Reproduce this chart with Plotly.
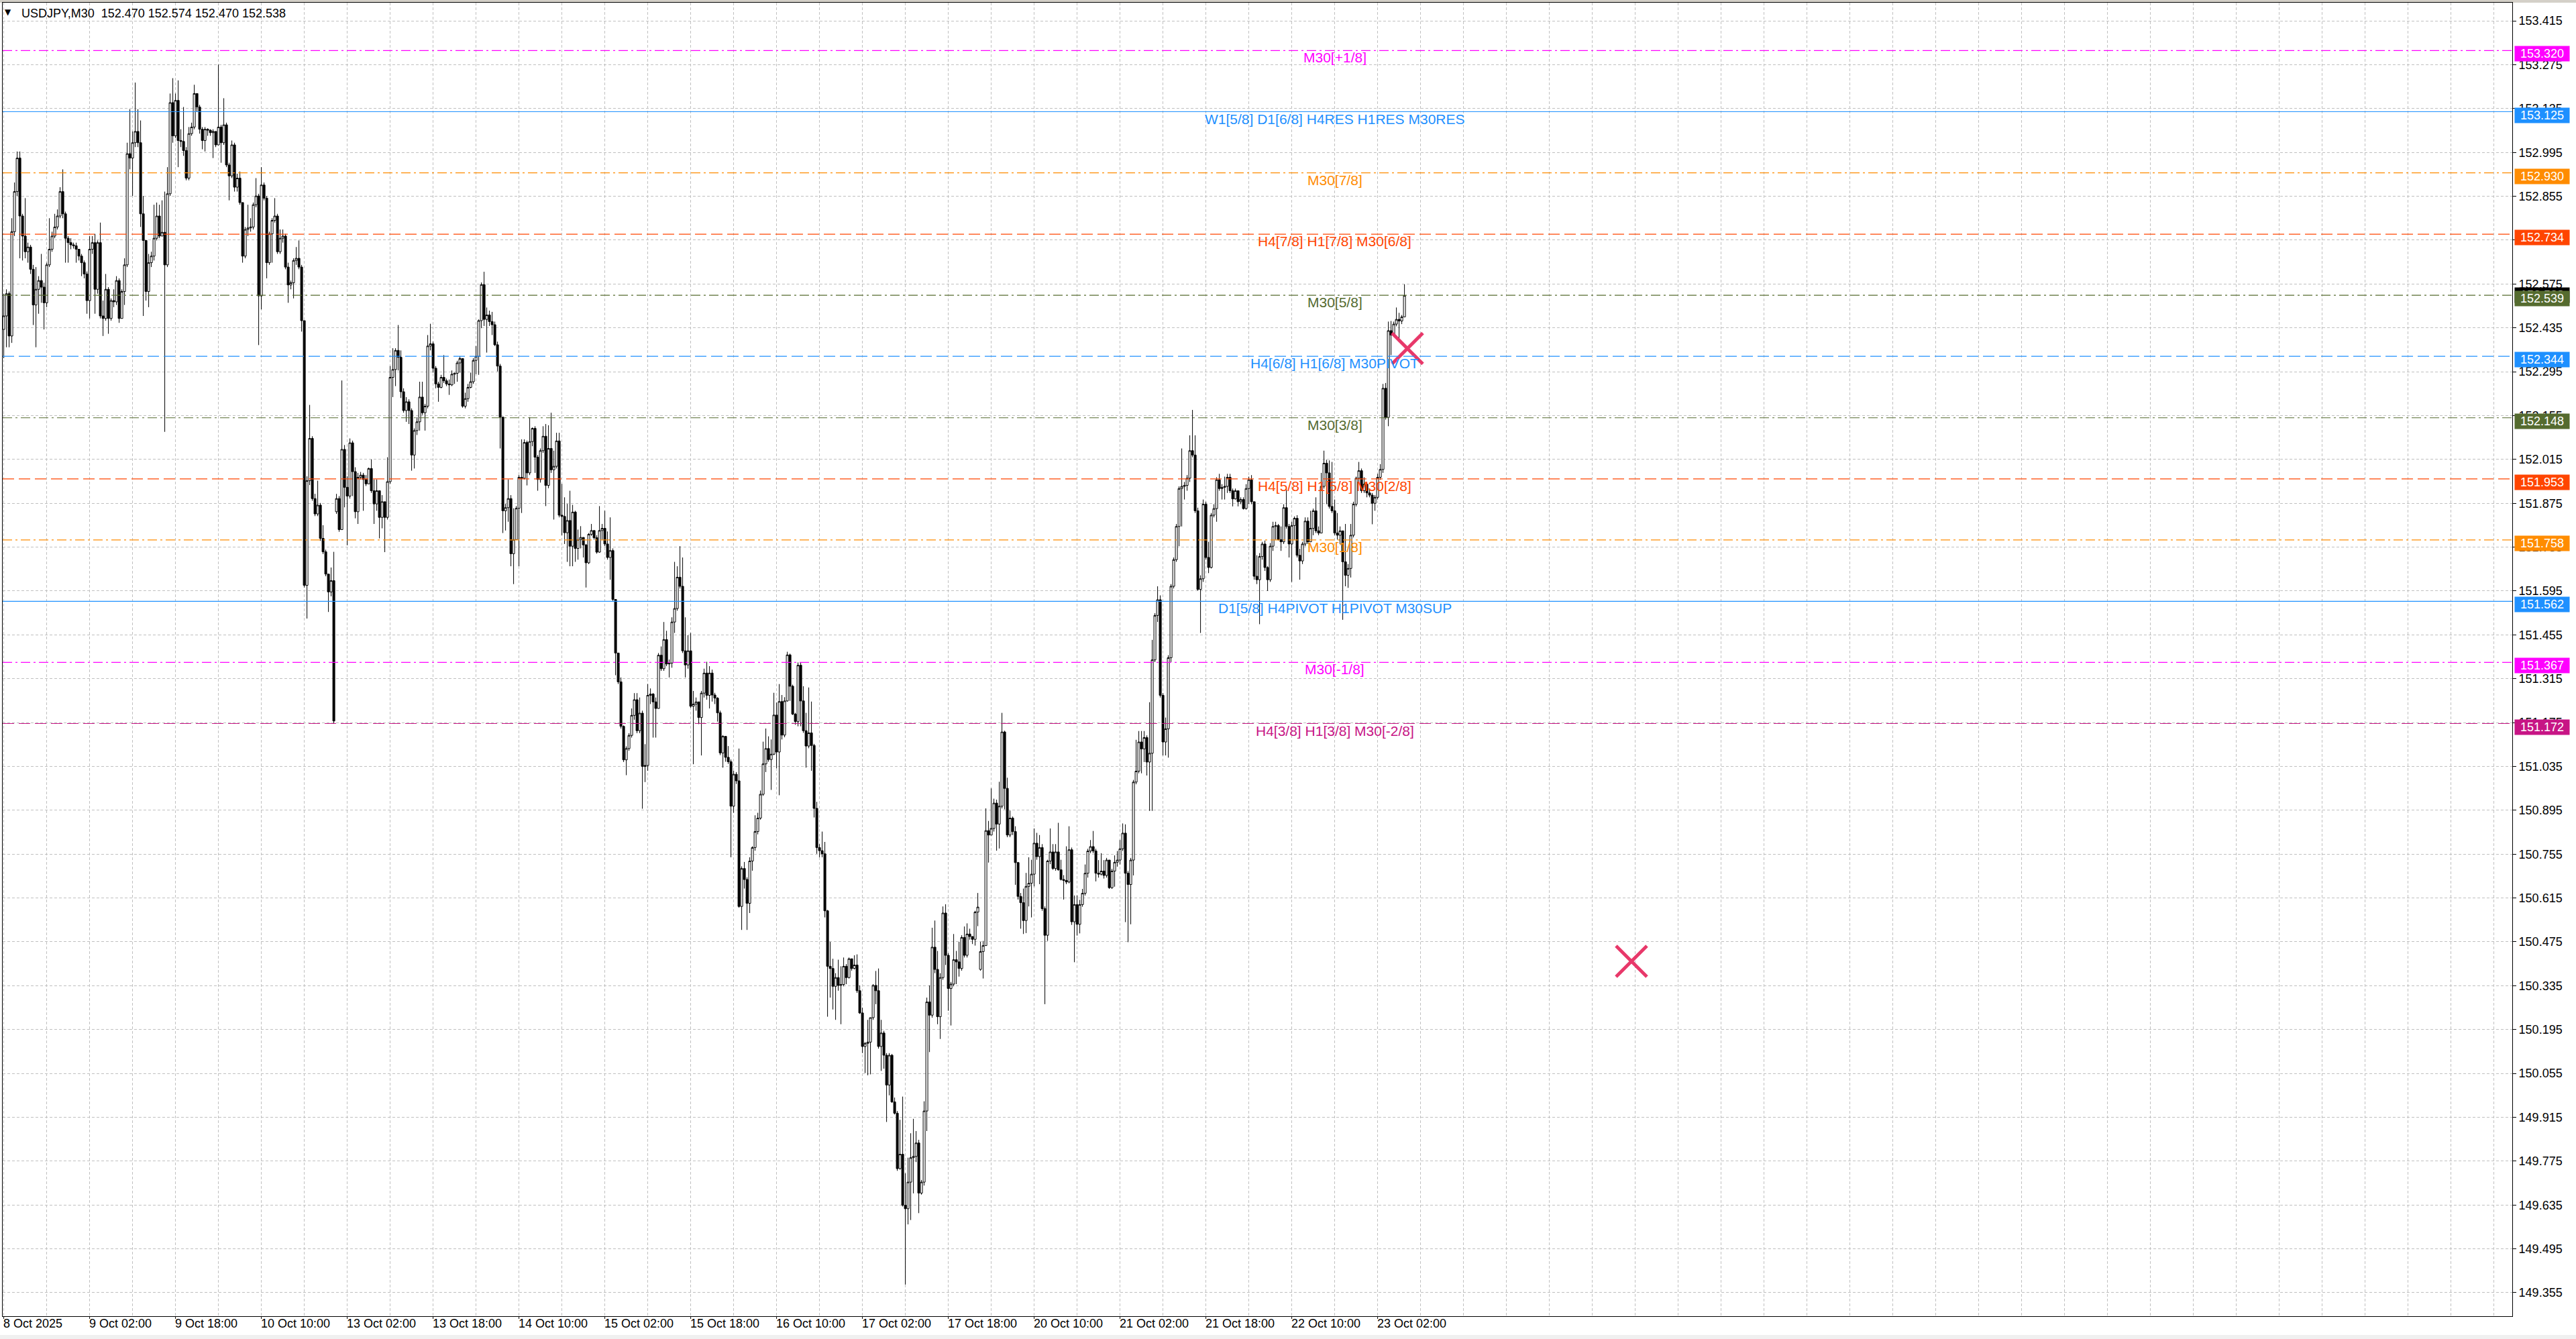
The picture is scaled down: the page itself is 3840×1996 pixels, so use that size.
import plotly.graph_objects as go

# ---------------- data (USDJPY M30, bar index 0 = 8 Oct 2025 10:00) ----------------
closes = [
152.473,152.544,152.409,152.742,152.870,152.977,152.792,152.728,152.678,152.693,
152.622,152.508,152.558,152.586,152.565,152.515,152.636,152.686,152.728,152.757,
152.792,152.870,152.799,152.721,152.707,152.700,152.697,152.686,152.664,152.643,
152.607,152.522,152.686,152.707,152.558,152.707,152.473,152.465,152.558,152.465,
152.522,152.518,152.586,152.465,152.551,152.636,152.991,152.977,153.026,153.062,
153.026,152.799,152.714,152.551,152.643,152.664,152.721,152.792,152.728,152.740,
152.636,152.863,153.154,153.048,153.161,153.033,153.030,153.001,152.913,153.055,
153.076,153.183,153.140,153.069,153.033,153.069,153.066,153.058,153.062,153.019,
153.076,153.026,153.083,152.955,152.920,153.019,152.884,152.913,152.835,152.664,
152.749,152.754,152.757,152.828,152.856,152.537,152.891,152.849,152.643,152.735,
152.778,152.792,152.678,152.721,152.728,152.629,152.572,152.579,152.650,152.657,
152.629,152.458,151.613,151.947,152.082,151.890,151.841,151.869,151.763,151.720,
151.649,151.592,151.628,151.180,151.890,151.791,152.047,151.926,151.898,152.068,
151.976,151.848,151.958,151.965,151.951,151.937,151.986,151.915,151.873,151.915,
151.830,151.880,151.830,151.944,152.277,152.302,152.363,152.341,152.231,152.171,
152.199,152.171,152.029,152.107,152.135,152.214,152.164,152.185,152.377,152.384,
152.306,152.256,152.245,152.277,152.266,152.256,152.253,152.287,152.290,152.323,
152.337,152.185,152.209,152.245,152.263,152.331,152.344,152.458,152.573,152.462,
152.476,152.455,152.445,152.381,152.313,152.150,151.851,151.861,151.890,151.714,
151.759,151.859,151.958,151.955,152.069,151.972,152.072,152.114,152.022,151.951,
152.043,152.089,151.932,152.050,151.982,151.993,152.074,151.837,151.833,151.781,
151.820,151.738,151.847,151.731,151.759,151.766,151.742,151.685,151.776,151.788,
151.765,151.719,151.788,151.795,151.745,151.702,151.724,151.568,151.397,151.305,
151.163,151.056,151.092,151.134,151.198,151.248,151.149,151.205,151.035,151.038,
151.262,151.266,151.241,151.220,151.390,151.347,151.440,151.362,151.365,151.496,
151.539,151.639,151.610,151.404,151.359,151.404,151.227,151.234,151.241,151.191,
151.269,151.333,151.262,151.333,151.263,151.253,151.206,151.078,151.131,151.064,
151.050,150.908,151.010,150.989,150.588,150.709,150.674,150.598,150.733,150.776,
150.827,150.870,150.946,151.043,151.092,151.057,151.074,151.199,151.081,151.242,
151.135,151.244,151.391,151.291,151.202,151.178,151.358,151.244,151.149,151.100,
151.142,151.102,150.901,150.776,150.766,150.756,150.574,150.397,150.390,150.333,
150.361,150.336,150.339,150.397,150.361,150.421,150.390,150.401,150.319,150.248,
150.141,150.151,150.155,150.233,150.336,150.319,150.141,150.184,150.113,150.018,
150.113,149.964,149.928,149.751,149.797,149.634,149.623,149.708,149.786,149.790,
149.833,149.673,149.708,149.935,150.283,150.241,150.458,150.387,150.236,150.361,
150.567,150.432,150.326,150.340,150.418,150.411,150.390,150.489,150.432,150.500,
150.492,150.483,150.570,150.586,150.444,150.463,150.830,150.816,150.837,150.918,
150.851,150.908,151.145,150.965,150.816,150.870,150.827,150.728,150.620,150.600,
150.543,150.652,150.662,150.691,150.790,150.747,150.776,150.581,150.496,150.733,
150.762,150.709,150.762,150.705,150.674,150.671,150.666,150.769,150.539,150.594,
150.531,150.594,150.630,150.694,150.765,150.779,150.765,150.694,150.691,150.701,
150.687,150.736,150.648,150.701,150.729,150.736,150.772,150.822,150.694,150.658,
150.736,150.985,151.020,151.113,151.091,151.127,151.049,151.077,151.375,151.517,
151.567,151.262,151.113,151.155,151.382,151.610,151.695,151.801,151.922,151.929,
151.932,151.955,152.043,152.029,151.851,151.600,151.634,151.872,151.702,151.670,
151.837,151.858,151.950,151.922,151.926,151.929,151.958,151.915,151.889,151.915,
151.880,151.887,151.858,151.922,151.950,151.880,151.642,151.631,151.705,151.745,
151.670,151.631,151.738,151.801,151.804,151.759,151.752,151.861,151.801,151.745,
151.804,151.827,151.709,151.691,151.745,151.818,151.752,151.795,151.851,151.787,
151.780,151.929,152.003,151.972,151.865,151.851,151.780,151.773,151.787,151.688,
151.645,151.667,151.773,151.872,151.955,151.979,151.915,151.936,151.908,151.901,
151.875,151.894,151.958,151.983,152.242,152.149,152.426,152.412,152.447,152.462,
152.457,152.470,152.538]

highs = [
152.544,152.558,152.551,152.785,152.899,152.998,152.998,152.799,152.849,152.707,
152.700,152.636,152.629,152.600,152.671,152.579,152.643,152.785,152.742,152.799,
152.813,152.884,152.941,152.806,152.728,152.721,152.707,152.707,152.686,152.671,
152.650,152.615,152.728,152.728,152.735,152.714,152.771,152.522,152.607,152.565,
152.529,152.558,152.600,152.593,152.558,152.657,153.026,153.133,153.062,153.218,
153.133,153.097,152.856,152.714,152.671,152.678,152.828,152.835,152.828,152.842,
152.870,152.948,153.183,153.232,153.183,153.225,153.069,153.140,153.012,153.076,
153.090,153.211,153.183,153.147,153.076,153.076,153.072,153.069,153.069,153.062,
153.275,153.083,153.168,153.090,152.962,153.033,153.026,152.927,152.934,152.835,
152.757,152.828,152.785,152.835,152.913,152.863,152.948,152.899,152.856,152.742,
152.785,152.849,152.799,152.749,152.749,152.735,152.643,152.586,152.657,152.693,
152.714,152.636,152.451,151.961,152.189,152.089,151.905,151.947,151.876,151.805,
151.727,151.649,151.670,151.720,151.905,151.898,152.267,152.061,151.961,152.082,
152.075,151.990,151.972,151.975,151.972,151.965,151.989,152.015,151.951,151.951,
151.915,151.901,151.880,152.022,152.313,152.370,152.370,152.444,152.363,152.242,
152.214,152.207,152.178,152.114,152.150,152.263,152.263,152.192,152.412,152.448,
152.391,152.313,152.263,152.285,152.348,152.273,152.270,152.299,152.292,152.330,
152.344,152.338,152.228,152.256,152.292,152.338,152.377,152.462,152.580,152.614,
152.500,152.490,152.486,152.455,152.391,152.320,152.150,151.873,151.951,151.901,
151.859,151.866,151.965,152.079,152.079,152.075,152.150,152.117,152.121,152.029,
152.050,152.121,152.128,152.124,152.164,152.043,152.100,152.100,151.937,151.894,
151.873,151.915,151.870,151.851,151.791,151.802,151.766,151.745,151.780,151.809,
151.780,151.773,151.866,151.809,151.851,151.785,151.830,151.731,151.560,151.397,
151.319,151.166,151.099,151.141,151.220,151.269,151.269,151.255,151.213,151.106,
151.298,151.284,151.269,151.255,151.397,151.418,151.496,151.468,151.376,151.511,
151.688,151.674,151.738,151.702,151.511,151.454,151.461,151.276,151.255,151.234,
151.276,151.347,151.369,151.355,151.344,151.270,151.256,151.213,151.135,151.128,
151.100,151.057,151.021,151.017,151.092,150.716,150.730,150.681,150.745,150.780,
150.879,150.887,150.958,151.114,151.156,151.131,151.121,151.270,151.239,151.298,
151.263,151.256,151.401,151.395,151.296,151.206,151.367,151.367,151.291,151.206,
151.287,151.242,151.107,150.922,150.787,150.827,150.794,150.577,150.475,150.421,
150.375,150.418,150.397,150.425,150.404,150.425,150.407,150.432,150.435,150.336,
150.265,150.155,150.226,150.233,150.340,150.382,150.390,150.226,150.191,150.120,
150.120,150.117,149.978,149.935,149.907,149.981,149.736,149.786,149.864,149.910,
149.871,149.843,149.715,149.966,150.297,150.336,150.520,150.543,150.446,150.375,
150.588,150.595,150.439,150.347,150.500,150.446,150.475,150.496,150.524,150.534,
150.517,150.492,150.574,150.631,150.475,150.478,150.901,150.861,150.965,150.932,
150.929,150.986,151.206,151.149,150.999,150.894,150.875,150.844,150.730,150.631,
150.645,150.695,150.745,150.737,150.837,150.823,150.816,150.787,150.588,150.737,
150.837,150.787,150.787,150.855,150.737,150.688,150.780,150.844,150.776,150.623,
150.623,150.609,150.644,150.722,150.772,150.800,150.829,150.772,150.736,150.758,
150.736,150.743,150.722,150.708,150.751,150.765,150.800,150.853,150.850,150.701,
150.743,150.992,151.120,151.148,151.148,151.148,151.134,151.240,151.439,151.524,
151.610,151.581,151.269,151.191,151.390,151.617,151.702,151.809,151.929,152.050,
151.943,151.965,152.092,152.173,152.092,151.861,151.645,151.887,151.880,151.752,
151.844,151.872,151.958,151.969,151.936,151.960,151.969,151.969,151.922,151.922,
151.894,151.894,151.894,151.936,151.960,151.965,151.880,151.709,151.716,151.752,
151.756,151.674,151.748,151.816,151.816,151.809,151.801,151.872,151.922,151.809,
151.816,151.833,151.837,151.730,151.752,151.830,151.830,151.851,151.858,151.894,
151.801,151.972,152.043,152.014,152.012,152.007,151.887,151.844,151.801,151.773,
151.809,151.681,151.809,151.880,151.960,152.007,151.986,151.958,151.943,151.922,
151.908,151.901,151.969,152.000,152.256,152.259,152.455,152.457,152.455,152.500,
152.483,152.476,152.574]

lows = [
152.338,152.373,152.373,152.387,152.728,152.856,152.657,152.650,152.657,152.643,
152.607,152.444,152.373,152.480,152.515,152.430,152.501,152.629,152.678,152.721,
152.749,152.785,152.785,152.643,152.643,152.686,152.688,152.643,152.650,152.600,
152.593,152.480,152.465,152.671,152.480,152.544,152.465,152.409,152.458,152.416,
152.458,152.501,152.508,152.451,152.465,152.508,152.629,152.941,152.856,153.012,
153.012,152.757,152.473,152.522,152.501,152.629,152.650,152.714,152.721,152.728,
152.103,152.629,152.856,153.026,153.041,152.948,153.012,152.984,152.906,152.906,
153.048,153.069,153.126,153.055,153.005,152.998,153.048,153.048,152.977,153.012,
153.019,152.962,153.019,152.948,152.842,152.913,152.870,152.870,152.828,152.643,
152.657,152.728,152.742,152.749,152.820,152.380,152.494,152.842,152.593,152.636,
152.643,152.771,152.671,152.671,152.707,152.622,152.515,152.558,152.529,152.636,
152.622,152.423,151.606,151.507,151.933,151.883,151.834,151.834,151.755,151.713,
151.642,151.528,151.578,151.173,151.841,151.784,151.791,151.862,151.741,151.890,
151.898,151.827,151.809,151.951,151.851,151.930,151.937,151.908,151.809,151.851,
151.763,151.795,151.719,151.823,151.937,152.214,152.249,152.299,152.211,152.164,
152.135,152.128,151.979,151.986,152.093,152.107,152.157,152.107,152.178,152.363,
152.292,152.242,152.199,152.242,152.259,152.249,152.221,152.249,152.256,152.263,
152.292,152.180,152.178,152.199,152.242,152.256,152.287,152.285,152.434,152.441,
152.356,152.441,152.412,152.377,152.296,152.050,151.780,151.788,151.816,151.674,
151.617,151.759,151.674,151.844,151.951,151.932,151.965,152.057,151.972,151.915,
151.941,152.036,151.866,151.923,151.972,151.823,151.986,151.830,151.773,151.745,
151.688,151.674,151.674,151.688,151.695,151.731,151.702,151.606,151.681,151.771,
151.759,151.714,151.717,151.759,151.738,151.695,151.631,151.563,151.326,151.298,
151.156,151.049,151.007,151.085,151.127,151.184,151.141,151.141,150.900,150.985,
151.021,151.234,151.127,151.127,151.220,151.340,151.340,151.355,151.319,151.350,
151.461,151.532,151.603,151.397,151.319,151.347,151.222,151.042,151.213,151.170,
151.070,151.255,151.248,151.220,151.242,151.234,151.178,151.071,151.031,151.050,
151.043,150.745,150.887,150.979,150.584,150.513,150.645,150.513,150.567,150.702,
150.766,150.818,150.865,150.941,151.017,151.050,150.960,151.071,151.029,150.943,
151.121,151.128,151.242,151.244,151.199,151.168,151.163,151.163,151.142,151.031,
151.093,151.021,150.872,150.756,150.745,150.745,150.553,150.236,150.297,150.259,
150.226,150.319,150.212,150.333,150.340,150.358,150.383,150.387,150.312,150.245,
150.120,150.056,150.049,150.052,150.226,150.276,150.134,150.063,150.070,149.900,
149.985,149.961,149.924,149.744,149.748,149.630,149.381,149.573,149.587,149.672,
149.772,149.609,149.668,149.697,149.871,150.123,150.233,150.375,150.212,150.165,
150.354,150.401,150.255,150.208,150.333,150.340,150.364,150.383,150.425,150.425,
150.482,150.468,150.463,150.525,150.383,150.358,150.463,150.728,150.823,150.827,
150.766,150.773,150.901,150.898,150.809,150.809,150.816,150.657,150.610,150.517,
150.500,150.503,150.588,150.553,150.652,150.737,150.659,150.574,150.276,150.478,
150.723,150.705,150.702,150.702,150.671,150.610,150.659,150.662,150.529,150.410,
150.495,150.502,150.587,150.623,150.680,150.758,150.758,150.668,150.680,150.687,
150.677,150.680,150.644,150.644,150.651,150.715,150.722,150.765,150.538,150.474,
150.531,150.687,150.978,151.013,151.013,151.049,151.006,150.893,150.893,151.368,
151.496,151.255,151.070,151.070,151.063,151.368,151.603,151.688,151.738,151.801,
151.887,151.915,151.943,152.022,151.844,151.596,151.461,151.624,151.695,151.652,
151.667,151.830,151.816,151.915,151.887,151.887,151.908,151.908,151.865,151.887,
151.865,151.872,151.855,151.855,151.872,151.872,151.631,151.617,151.489,151.695,
151.659,151.595,151.624,151.723,151.759,151.756,151.723,151.745,151.794,151.702,
151.624,151.759,151.702,151.631,151.681,151.738,151.745,151.766,151.773,151.780,
151.773,151.780,151.922,151.872,151.858,151.844,151.773,151.759,151.745,151.503,
151.610,151.605,151.638,151.766,151.865,151.943,151.908,151.908,151.894,151.894,
151.808,151.851,151.887,151.950,151.972,152.142,152.121,152.348,152.419,152.440,
152.398,152.447,152.470]

# opens follow the previous close, except the first bar and the weekend gaps
open_overrides = {0: 152.430, 124: 151.848, 364: 150.387}

levels = [153.320, 153.125, 152.930, 152.734, 152.539, 152.344,
          152.148, 151.953, 151.758, 151.562, 151.367, 151.172]
level_names = ["M30[+1/8]", "W1[5/8] D1[6/8] H4RES H1RES M30RES", "M30[7/8]",
               "H4[7/8] H1[7/8] M30[6/8]", "M30[5/8]", "H4[6/8] H1[6/8] M30PIVOT",
               "M30[3/8]", "H4[5/8] H1[5/8] M30[2/8]", "M30[1/8]",
               "D1[5/8] H4PIVOT H1PIVOT M30SUP", "M30[-1/8]", "H4[3/8] H1[3/8] M30[-2/8]"]
level_colors = ["#FF00FF", "#1E90FF", "#FF8C00", "#FF4500", "#556B2F", "#1E90FF",
                "#556B2F", "#FF4500", "#FF8C00", "#1E90FF", "#FF00FF", "#C71585"]
level_styles = ["dashdot", "solid", "dashdot", "dash", "dashdot", "dash",
                "dashdot", "dash", "dashdot", "solid", "dashdot", "dash"]

time_labels = ["8 Oct 2025", "9 Oct 02:00", "9 Oct 18:00", "10 Oct 10:00", "13 Oct 02:00",
               "13 Oct 18:00", "14 Oct 10:00", "15 Oct 02:00", "15 Oct 18:00", "16 Oct 10:00",
               "17 Oct 02:00", "17 Oct 18:00", "20 Oct 10:00", "21 Oct 02:00", "21 Oct 18:00",
               "22 Oct 10:00", "23 Oct 02:00"]
time_label_bars = [32 * k for k in range(len(time_labels))]

cross_bars = [523.1, 606.6]
cross_prices = [152.369, 150.413]

current_price = 152.538
title_text = "USDJPY,M30  152.470 152.574 152.470 152.538"

# ---------------- build ----------------
n = len(closes)
bars = list(range(n))
opens = [open_overrides.get(i, closes[i - 1] if i > 0 else closes[0]) for i in range(n)]
highs_c = [max(h, o, c) for h, o, c in zip(highs, opens, closes)]
lows_c = [min(l, o, c) for l, o, c in zip(lows, opens, closes)]

W, H = 3840, 1996
ML, MR, MT, MB = 4, 95, 4, 34
Y_TOP, Y_BOT = 153.473, 149.280
X_LEFT, X_RIGHT = -0.4, 934.85

fig = go.Figure()
fig.add_trace(go.Candlestick(
    x=bars, open=opens, high=highs_c, low=lows_c, close=closes,
    increasing=dict(line=dict(color="#000000", width=1), fillcolor="#FFFFFF"),
    decreasing=dict(line=dict(color="#000000", width=1), fillcolor="#000000"),
    whiskerwidth=0, showlegend=False, hoverinfo="skip"))

fig.add_trace(go.Scatter(
    x=cross_bars, y=cross_prices, mode="markers", showlegend=False, hoverinfo="skip",
    marker=dict(symbol="x-thin", size=46, color="#E8386A",
                line=dict(width=5, color="#E8386A"))))

dash_map = {"solid": "solid", "dash": "17px,7px", "dashdot": "14px,5px,3px,5px"}
shapes = []
annotations = []
font_ui = "Liberation Sans, Arial, sans-serif"

for lv, name, col, st in zip(levels, level_names, level_colors, level_styles):
    shapes.append(dict(type="line", xref="paper", x0=0, x1=1, yref="y", y0=lv, y1=lv,
                       line=dict(color=col, width=1.2, dash=dash_map[st]), layer="above"))
    annotations.append(dict(xref="x", x=496, yref="y", y=lv, text=name, showarrow=False,
                            xanchor="center", yanchor="top", yshift=3,
                            font=dict(family=font_ui, size=21, color=col)))

# current price (black) box partly hidden behind the level box
annotations.append(dict(xref="paper", x=1, xanchor="left", xshift=3, yref="y", y=current_price,
                        yshift=1, text="%.3f" % current_price, showarrow=False,
                        bgcolor="#000000", width=77, height=18, borderpad=2,
                        font=dict(family=font_ui, size=18, color="#FFFFFF")))
for lv, col in zip(levels, level_colors):
    annotations.append(dict(xref="paper", x=1, xanchor="left", xshift=3, yref="y", y=lv,
                            yshift=-5, text="%.3f" % lv, showarrow=False,
                            bgcolor=col, width=77, height=18, borderpad=2,
                            font=dict(family=font_ui, size=18, color="#FFFFFF")))

for b, t in zip(time_label_bars, time_labels):
    annotations.append(dict(xref="x", x=b, yref="paper", y=0, text=t, showarrow=False,
                            xanchor="left", yanchor="top", xshift=-3, yshift=1,
                            font=dict(family=font_ui, size=18, color="#000000")))
    shapes.append(dict(type="line", xref="x", x0=b, x1=b, yref="paper", y0=0, y1=-4 / (H - MT - MB),
                       line=dict(color="#000000", width=1)))

annotations.append(dict(xref="paper", x=0, xanchor="left", xshift=1, yref="paper", y=1,
                        yanchor="top", yshift=-5, text="▼", showarrow=False,
                        font=dict(family="DejaVu Sans", size=12, color="#000000")))
annotations.append(dict(xref="paper", x=0, xanchor="left", xshift=26, yref="paper", y=1,
                        yanchor="top", yshift=-4, text=title_text, showarrow=False,
                        font=dict(family=font_ui, size=18, color="#000000")))

# light grey window edges
shapes.append(dict(type="rect", xref="paper", x0=-ML / (W - ML - MR), x1=1 + MR / (W - ML - MR),
                   yref="paper", y0=1, y1=1 + MT / (H - MT - MB), fillcolor="#D4D0C8",
                   line=dict(width=0), layer="below"))
shapes.append(dict(type="rect", xref="paper", x0=-ML / (W - ML - MR), x1=1 + MR / (W - ML - MR),
                   yref="paper", y0=-MB / (H - MT - MB), y1=-(MB - 6) / (H - MT - MB),
                   fillcolor="#F0F0F0", line=dict(width=0), layer="below"))

ytick_vals = [round(149.355 + 0.14 * k, 3) for k in range(30)]

fig.update_layout(
    width=W, height=H,
    margin=dict(l=ML, r=MR, t=MT, b=MB, autoexpand=False),
    paper_bgcolor="#FFFFFF", plot_bgcolor="#FFFFFF",
    showlegend=False, hovermode=False,
    boxgap=0.25, boxgroupgap=0,
    shapes=shapes, annotations=annotations,
    xaxis=dict(range=[X_LEFT, X_RIGHT], rangeslider=dict(visible=False),
               tickmode="linear", tick0=0, dtick=16, showticklabels=False, ticks="",
               showgrid=True, gridcolor="#C0C0C0", griddash="4px,3px", gridwidth=1,
               zeroline=False, showline=True, linecolor="#000000", linewidth=1, mirror=True),
    yaxis=dict(range=[Y_BOT, Y_TOP], side="right", tickmode="array", tickvals=ytick_vals,
               ticktext=["%.3f" % v for v in ytick_vals], ticks="outside", ticklen=5,
               tickcolor="#000000", tickfont=dict(family=font_ui, size=18, color="#000000"),
               showgrid=True, gridcolor="#C0C0C0", griddash="4px,3px", gridwidth=1,
               zeroline=False, showline=True, linecolor="#000000", linewidth=1, mirror=True),
)

fig.write_html("out.html", config={"displayModeBar": False},
               post_script="document.body.style.margin='0';document.body.style.overflow='hidden';")
